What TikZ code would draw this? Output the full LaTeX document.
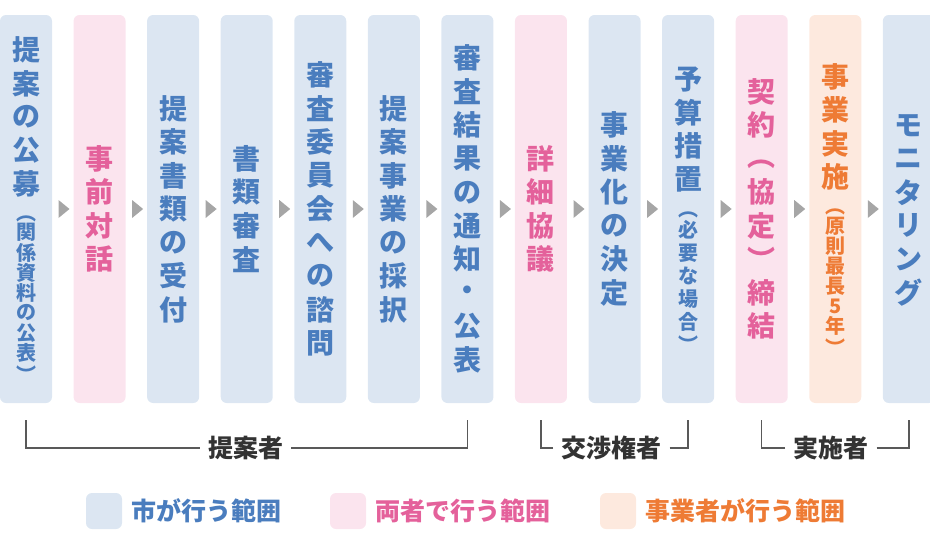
\documentclass[tikz,border=0pt]{standalone}
\usepackage{fontspec}
\setmainfont{Noto Sans CJK JP}
\usepackage{tikz}
\usetikzlibrary{positioning,shapes.geometric}

\definecolor{shifill}{HTML}{DCE6F2}
\definecolor{shitext}{HTML}{4A7DBE}
\definecolor{ryofill}{HTML}{FBE4EE}
\definecolor{ryotext}{HTML}{E4619B}
\definecolor{jigfill}{HTML}{FDE9DE}
\definecolor{jigtext}{HTML}{EE7B35}
\definecolor{arrowgray}{HTML}{A6A6A6}
\definecolor{brkgray}{HTML}{595959}
\definecolor{labelgray}{HTML}{333333}

% vertical text: one slot per character
\newcommand\oofont{\bfseries\fontsize{28}{28}\selectfont}
\newcommand\kofont{\bfseries\fontsize{20}{20}\selectfont}
\newcommand\kopitch{23pt}
\newcommand\oo[1]{\hbox to 40pt{\hss\vbox to 33.5pt{\vss\hbox{\oofont #1}\vss}\hss}}
\newcommand\op[2][0pt]{\hbox to 40pt{\hss\vbox to 33.5pt{\vss\kern#1\hbox{\oofont #2}\kern-#1\vss}\hss}}
\newcommand\ko[1]{\hbox to 40pt{\hss\vbox to \kopitch{\vss\hbox{\kofont #1}\vss}\hss}}
\newcommand\kp[2][0pt]{\hbox to 40pt{\hss\vbox to 22pt{\vss\kern#1\hbox{\kofont #2}\kern-#1\vss}\hss}}
\makeatletter
\newcommand\oos[1]{\@tfor\tatechar:=#1\do{\oo{\tatechar}}}
\newcommand\kos[2][23pt]{\def\kopitch{#1}\@tfor\tatechar:=#2\do{\ko{\tatechar}}}
\makeatother
\newcommand\tate[1]{\vbox{\offinterlineskip#1}}

\tikzset{
  colbox/.style={rounded corners=6pt, minimum width=52pt, minimum height=388pt, inner sep=0pt},
  shi/.style={colbox, fill=shifill, text=shitext},
  ryo/.style={colbox, fill=ryofill, text=ryotext},
  jig/.style={colbox, fill=jigfill, text=jigtext},
  tri/.style={isosceles triangle, isosceles triangle stretches, fill=arrowgray,
    minimum width=18pt, minimum height=11pt, inner sep=0pt},
  brk/.style={draw=brkgray, line width=1.4pt},
  who/.style={font=\bfseries\fontsize{25}{25}\selectfont, text=labelgray, inner sep=8pt},
  key/.style={minimum size=36pt, rounded corners=6pt, inner sep=0pt},
  keytext/.style={font=\bfseries\fontsize{25}{25}\selectfont, inner sep=0pt}
}

\begin{document}
\begin{tikzpicture}[x=1pt,y=-1pt]
  \useasboundingbox (0,0) rectangle (930,546);

  % steps
  \node[shi] (c1) at (26,209) {\tate{\oos{提案の公募}\kp[7pt]{︵}\kos[20pt]{関係資料の公表}\kp{︶}}};
  \node[ryo, right=21.17pt of c1] (c2) {\tate{\oos{事前対話}}};
  \node[shi, right=21.17pt of c2] (c3) {\tate{\oos{提案書類の受付}}};
  \node[shi, right=21.17pt of c3] (c4) {\tate{\oos{書類審査}}};
  \node[shi, right=21.17pt of c4] (c5) {\tate{\oos{審査委員会への諮問}}};
  \node[shi, right=21.17pt of c5] (c6) {\tate{\oos{提案事業の採択}}};
  \node[shi, right=21.17pt of c6] (c7) {\tate{\oos{審査結果の通知・公表}}};
  \node[ryo, right=21.17pt of c7] (c8) {\tate{\oos{詳細協議}}};
  \node[shi, right=21.17pt of c8] (c9) {\tate{\oos{事業化の決定}}};
  \node[shi, right=21.17pt of c9] (c10) {\tate{\oos{予算措置}\kp[7pt]{︵}\kos{必要な場合}\kp{︶}}};
  \node[ryo, right=21.17pt of c10] (c11) {\tate{\oos{契約}\op[6pt]{︵}\oos{協定}\op{︶}\oos{締結}}};
  \node[jig, right=21.17pt of c11] (c12) {\tate{\oos{事業実施}\kp[7pt]{︵}\kos[20pt]{原則最長5年}\kp{︶}}};
  \node[shi, right=21.17pt of c12] (c13) {\tate{\oos{モニタリング}}};

  % arrows
  \path (c1) -- node[tri] (a1) {} (c2);
  \path (c2) -- node[tri] (a2) {} (c3);
  \path (c3) -- node[tri] (a3) {} (c4);
  \path (c4) -- node[tri] (a4) {} (c5);
  \path (c5) -- node[tri] (a5) {} (c6);
  \path (c6) -- node[tri] (a6) {} (c7);
  \path (c7) -- node[tri] (a7) {} (c8);
  \path (c8) -- node[tri] (a8) {} (c9);
  \path (c9) -- node[tri] (a9) {} (c10);
  \path (c10) -- node[tri] (a10) {} (c11);
  \path (c11) -- node[tri] (a11) {} (c12);
  \path (c12) -- node[tri] (a12) {} (c13);

  % brackets
  \node[who] (p1) at (245.5,448) {提案者};
  \draw[brk] (p1.west) -| ([yshift=-17pt]c1.south);
  \draw[brk] (p1.east) -| ([yshift=-17pt]c7.south);
  \node[who] (p2) at (611.3,448) {交渉権者};
  \draw[brk] (p2.west) -| ([yshift=-17pt]c8.south);
  \draw[brk] (p2.east) -| ([yshift=-17pt]c10.south);
  \node[who] (p3) at (830.8,448) {実施者};
  \draw[brk] (p3.west) -| ([yshift=-17pt]c11.south);
  \draw[brk] (p3.east) -| ([yshift=-17pt]c13.south);

  % legend
  \node[key, fill=shifill] (k1) at (104,511) {};
  \node[keytext, text=shitext, right=9pt of k1] (t1) {市が行う範囲};
  \node[key, fill=ryofill] (k2) at (348,511) {};
  \node[keytext, text=ryotext, right=9pt of k2] (t2) {両者で行う範囲};
  \node[key, fill=jigfill] (k3) at (618,511) {};
  \node[keytext, text=jigtext, right=9pt of k3] (t3) {事業者が行う範囲};
\end{tikzpicture}
\end{document}
